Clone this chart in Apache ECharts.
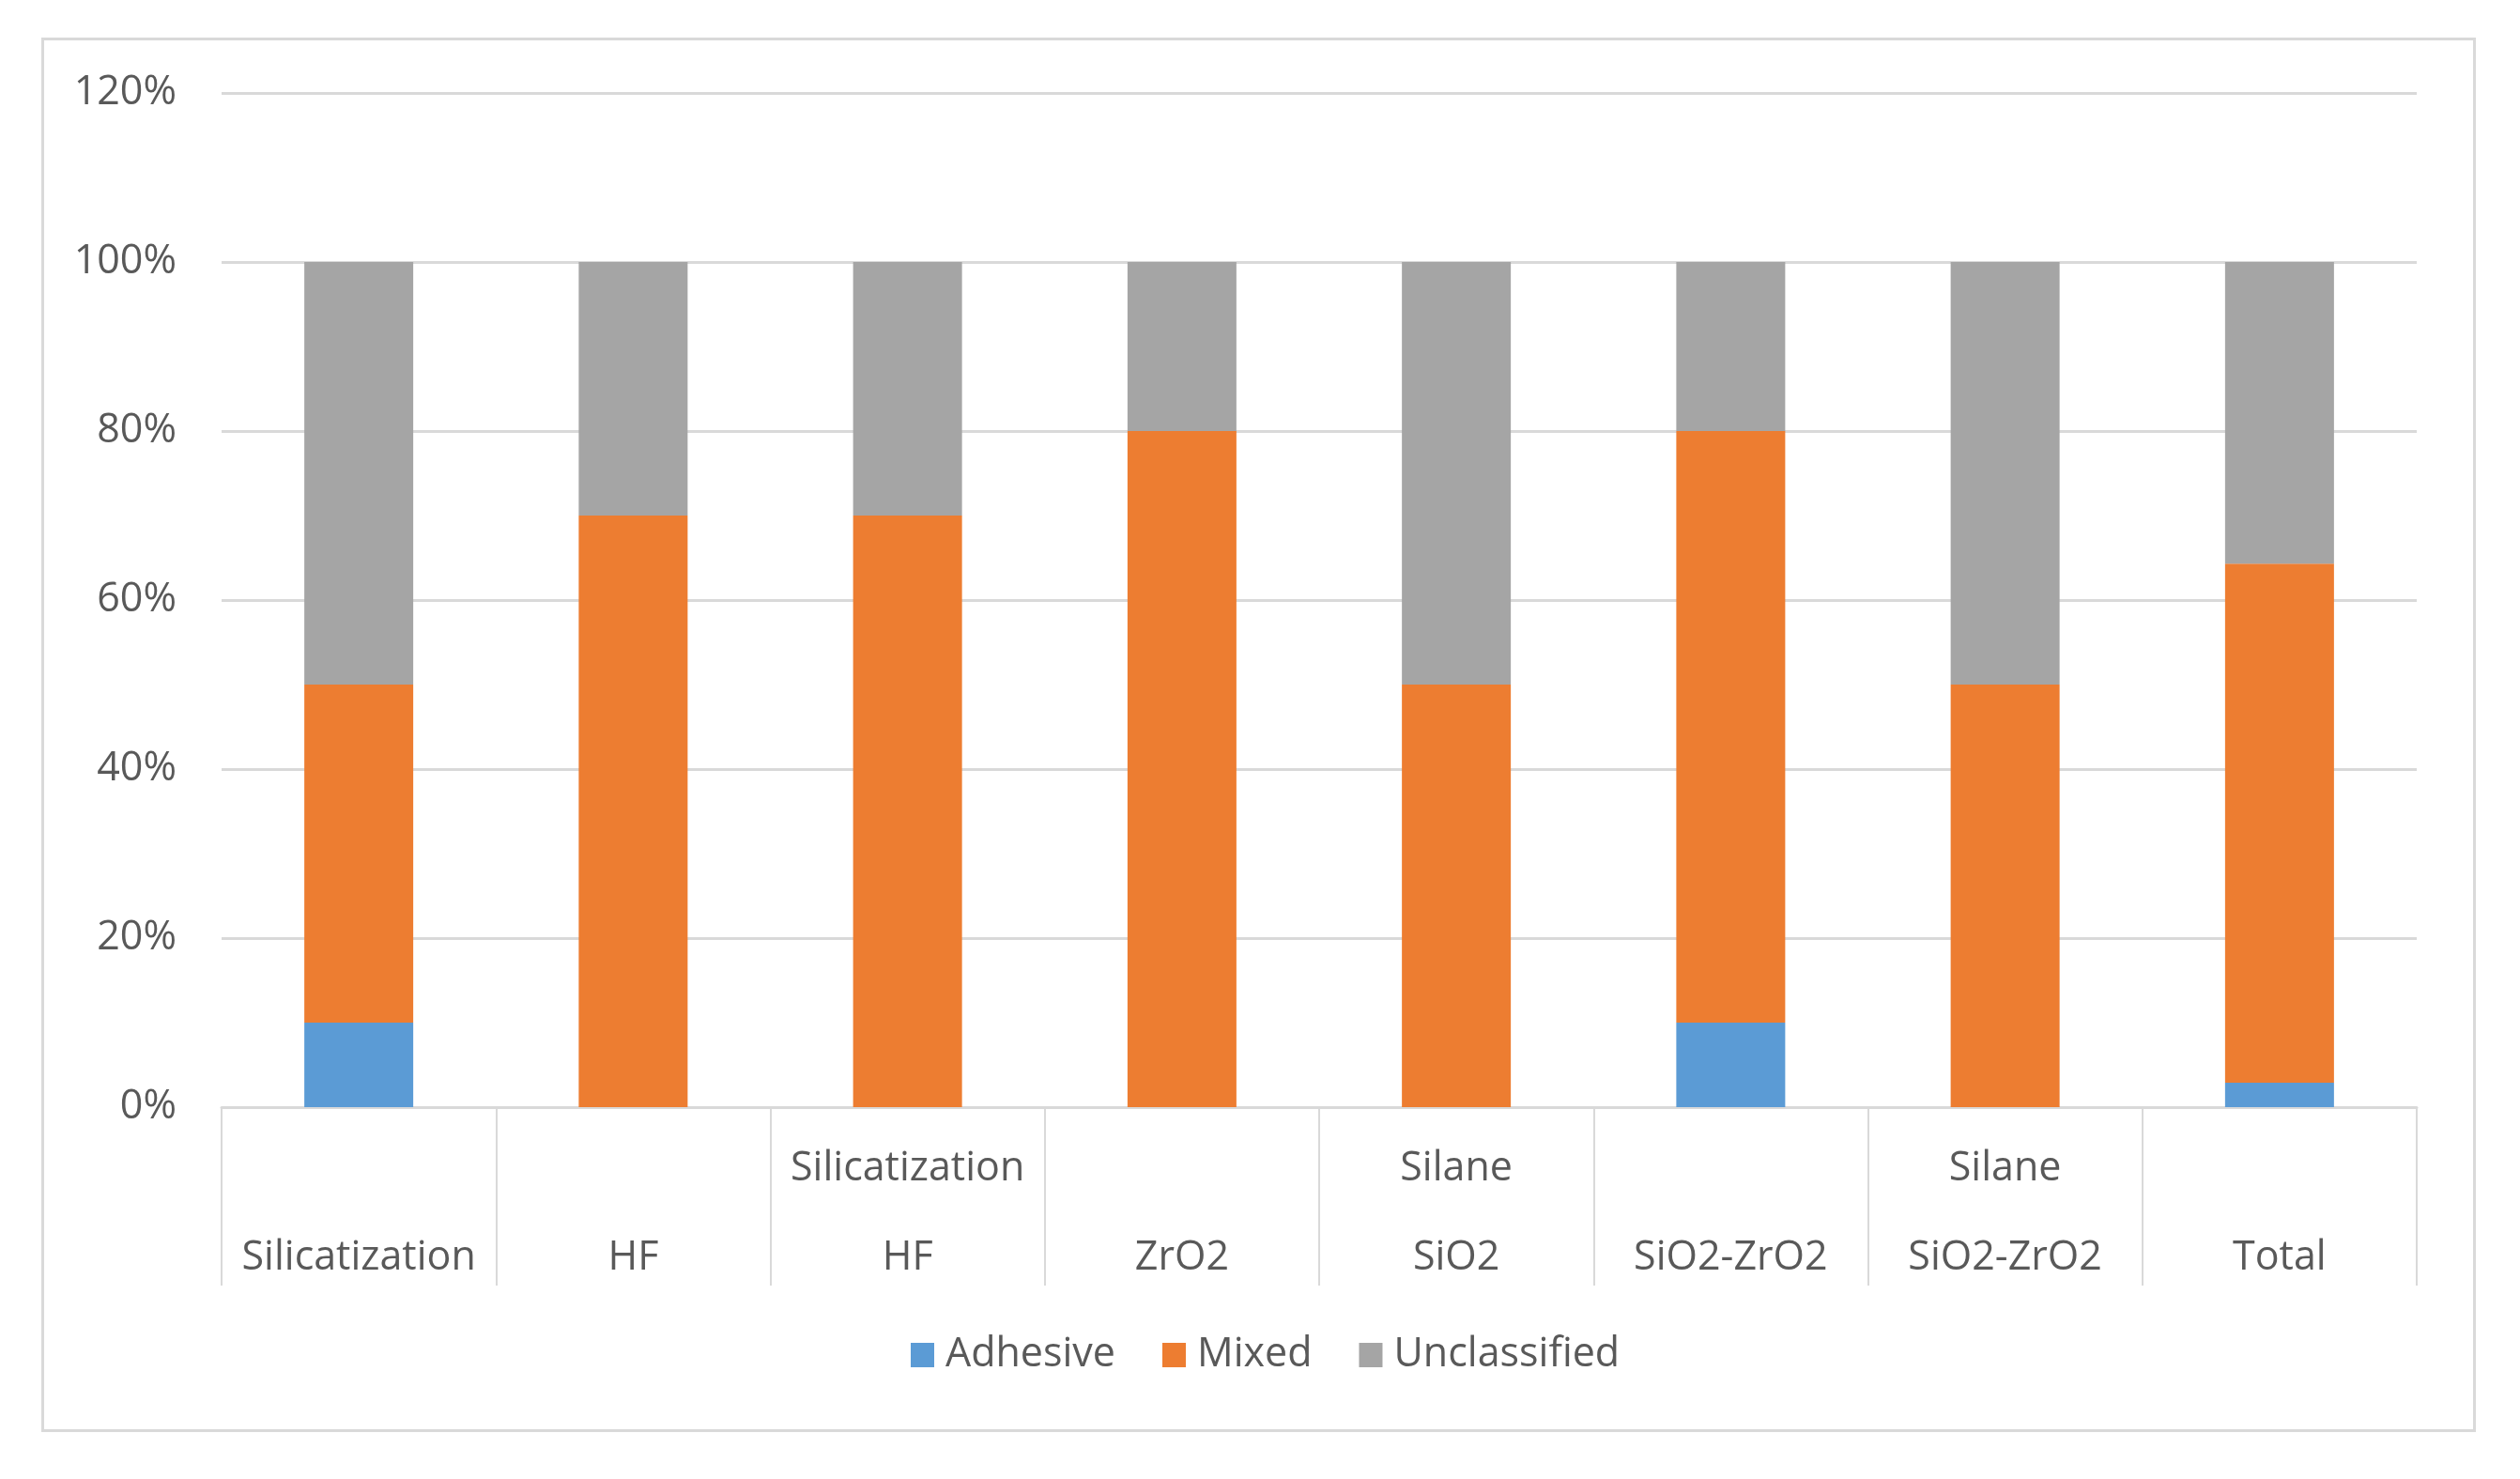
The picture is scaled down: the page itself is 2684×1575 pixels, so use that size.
<!DOCTYPE html>
<html>
<head>
<meta charset="utf-8">
<script src="https://cdn.jsdelivr.net/npm/echarts@6/dist/echarts.min.js"></script>
<style>
html,body{margin:0;padding:0;background:#fff;}
#chart{width:2684px;height:1575px;}
</style>
</head>
<body>
<div id="chart"></div>
<script>
const categories = ['Silicatization', 'HF', 'Silicatization\nHF', 'ZrO2', 'Silane\nSiO2', 'SiO2-ZrO2', 'Silane\nSiO2-ZrO2', 'Total'];
const adhesive = [10, 0, 0, 0, 0, 10, 0, 2.9];
const mixed = [40, 70, 70, 80, 50, 70, 50, 61.4];
const unclassified = [50, 30, 30, 20, 50, 20, 50, 35.7];
const yTicks = [0, 20, 40, 60, 80, 100, 120];

const FONT = 'Open Sans';
const TXT = '#595959';
const LINE = '#D9D9D9';

const chart = echarts.init(document.getElementById('chart'), null, {renderer: 'canvas'});
const barStyle = (name, data, color) => ({
  name, type: 'bar', stack: 'total', data, barWidth: 116,
  itemStyle: {color}, emphasis: {disabled: true}
});
chart.setOption({
  animation: false,
  backgroundColor: '#fff',
  graphic: [{
    type: 'rect', left: 43, top: 39,
    shape: {width: 2590, height: 1482},
    style: {fill: 'none', stroke: LINE, lineWidth: 3}
  }],
  grid: {left: 236, right: 110, top: 99, bottom: 396, containLabel: false},
  legend: {
    left: 965, top: 1413,
    icon: 'rect', itemWidth: 25, itemHeight: 26, itemGap: 50,
    textStyle: {fontFamily: FONT, fontSize: 43, lineHeight: 50, color: TXT, padding: [0, 0, 0, 7]},
    data: ['Adhesive', 'Mixed', 'Unclassified']
  },
  xAxis: {
    type: 'category', data: categories,
    axisLine: {show: true, lineStyle: {color: LINE, width: 3}},
    axisTick: {show: true, length: 190, lineStyle: {color: LINE, width: 2}},
    axisLabel: {
      interval: 0, margin: 18, fontFamily: FONT, fontSize: 43, color: TXT,
      lineHeight: 95,
      formatter: v => v.indexOf('\n') >= 0 ? v : '\n' + v
    }
  },
  yAxis: {
    type: 'value', min: 0, max: 120, interval: 20,
    axisLine: {show: false}, axisTick: {show: false},
    splitLine: {lineStyle: {color: LINE, width: 3}},
    axisLabel: {
      margin: 48, fontFamily: FONT, fontSize: 43, color: TXT,
      formatter: v => yTicks.indexOf(v) >= 0 ? v + '%' : ''
    }
  },
  series: [
    barStyle('Adhesive', adhesive, '#5B9BD5'),
    barStyle('Mixed', mixed, '#ED7D31'),
    barStyle('Unclassified', unclassified, '#A5A5A5')
  ]
});
</script>
</body>
</html>
